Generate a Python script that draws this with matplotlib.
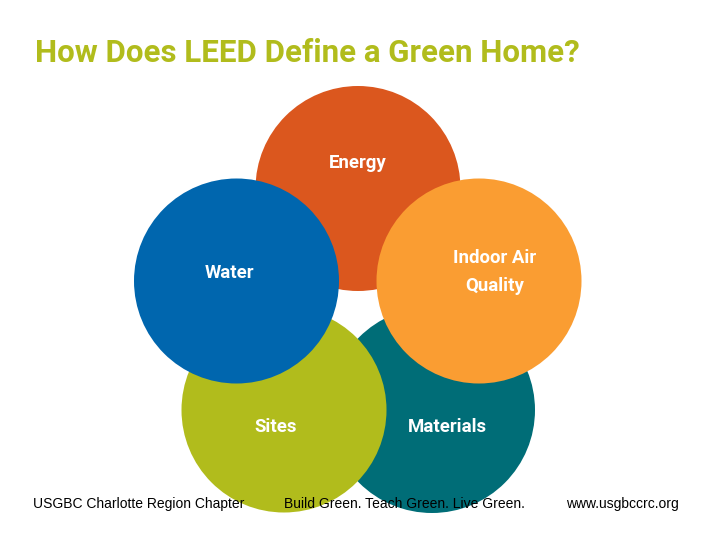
import matplotlib
matplotlib.use('Agg')
import matplotlib.pyplot as plt
from matplotlib.patches import Circle

title = 'How Does LEED Define a Green Home?'
# drawing order matters, later circles sit on top
names = ['Energy', 'Materials', 'Sites', 'Water', 'Indoor Air\nQuality']
cx = [358, 432, 284, 236.5, 479]
cy = [188.5, 410, 410, 281, 281]
radius = [102.5, 103, 102.5, 102.5, 102.5]
colors = ['#db571e', '#006d77', '#b1bc1c', '#0066ae', '#fa9d32']
label_x = [358, 447, 276, 229, 495]
label_y = [163, 427, 427, 273, 272]
footer = ['USGBC Charlotte Region Chapter', 'Build Green. Teach Green. Live Green.', 'www.usgbccrc.org']
footer_x = [33, 284, 566]

fig = plt.figure(figsize=(7.2, 5.4), dpi=100)
ax = fig.add_axes([0, 0, 1, 1])
ax.set_xlim(0, 720)
ax.set_ylim(540, 0)
ax.axis('off')

for i in range(len(names)):
    ax.add_patch(Circle((cx[i], cy[i]), radius[i], color=colors[i], lw=0))
    ax.text(label_x[i], label_y[i], names[i], color='white', fontsize=13.4, fontweight='bold',
            family='Roboto', ha='center', va='center', linespacing=1.7)

ax.text(35, 53, title, color='#b1bc1c', fontsize=22.5, fontweight='bold', family='Roboto', ha='left', va='center')

for t, x in zip(footer, footer_x):
    ax.text(x, 504, t, color='black', fontsize=10, family='Liberation Sans', ha='left', va='center')

fig.savefig('out.png', dpi=100)
